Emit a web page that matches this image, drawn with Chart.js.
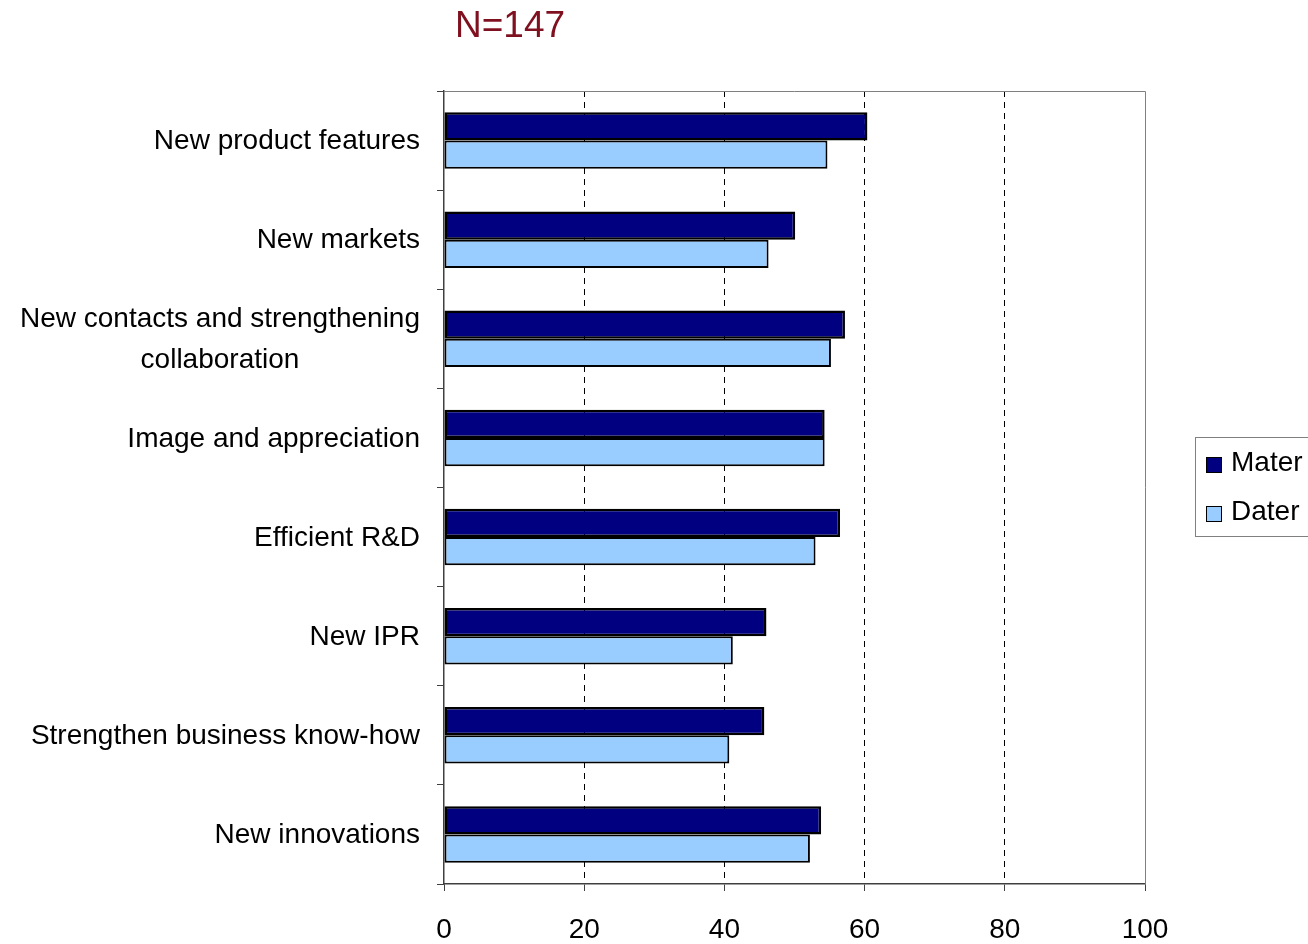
<!DOCTYPE html>
<html>
<head>
<meta charset="utf-8">
<script src="https://cdn.jsdelivr.net/npm/chart.js@4/dist/chart.umd.min.js"></script>
<style>
    html, body { margin: 0; padding: 0; background: #ffffff; }
</style>
</head>
<body>
<canvas id="grafico" width="1308" height="944"></canvas>
<script>
// dados
const categorias = [
    'New product features',
    'New markets',
    ['New contacts and strengthening', 'collaboration'],
    'Image and appreciation',
    'Efficient R&D',
    'New IPR',
    'Strengthen business know-how',
    'New innovations'
];
const valoresMater = [60.4, 50.1, 57.2, 54.3, 56.5, 46.0, 45.7, 53.8];
const valoresDater = [54.7, 46.3, 55.2, 54.3, 53.0, 41.2, 40.7, 52.2];
const ticksX = [0, 20, 40, 60, 80, 100];
const titulo = 'N=147';

const FONTE = '"Liberation Sans", Arial, sans-serif';

// rótulos do eixo y, moldura, título e legenda desenhados à mão
const extras = {
    id: 'extras',
    beforeDatasetsDraw(chart) {
        const { ctx, chartArea: a } = chart;
        ctx.save();
        ctx.strokeStyle = '#808080';
        ctx.lineWidth = 1;
        ctx.beginPath();
        ctx.moveTo(a.left, a.top + 0.5);
        ctx.lineTo(a.right + 0.5, a.top + 0.5);
        ctx.lineTo(a.right + 0.5, a.bottom);
        ctx.stroke();
        ctx.restore();
    },
    afterDraw(chart) {
        const { ctx } = chart;
        const escalaY = chart.scales.y;
        ctx.save();

        // rótulos das categorias
        ctx.fillStyle = '#000000';
        ctx.font = '28px ' + FONTE;
        ctx.textBaseline = 'middle';
        categorias.forEach((cat, i) => {
            const y = escalaY.getPixelForValue(i);
            const linhas = Array.isArray(cat) ? cat : [cat];
            const larguras = linhas.map(l => ctx.measureText(l).width);
            const maior = Math.max(...larguras);
            const centro = 420 - maior / 2;
            const passo = 41;
            const y0 = y - (linhas.length - 1) * passo / 2 + 1;
            linhas.forEach((l, k) => {
                ctx.textAlign = 'center';
                ctx.fillText(l, linhas.length > 1 ? centro : 420 - larguras[k] / 2, y0 + k * passo);
            });
        });

        // título
        ctx.fillStyle = '#7f1020';
        ctx.font = '37px ' + FONTE;
        ctx.textAlign = 'center';
        ctx.textBaseline = 'alphabetic';
        ctx.fillText(titulo, 510, 37);

        // legenda
        ctx.strokeStyle = '#808080';
        ctx.lineWidth = 1;
        ctx.strokeRect(1195.5, 437.5, 200, 99);
        ctx.font = '28px ' + FONTE;
        ctx.textAlign = 'left';
        ctx.textBaseline = 'middle';
        chart.data.datasets.forEach((ds, i) => {
            const yc = 464 + i * 49;
            ctx.fillStyle = ds.backgroundColor;
            ctx.fillRect(1206, yc - 7, 15, 15);
            ctx.strokeStyle = '#000000';
            ctx.lineWidth = 1;
            ctx.strokeRect(1206.5, yc - 6.5, 15, 15);
            ctx.fillStyle = '#000000';
            ctx.fillText(ds.label, 1231, yc - 1);
        });
        ctx.restore();
    }
};

const ctx = document.getElementById('grafico').getContext('2d');
const grafico = new Chart(ctx, {
    type: 'bar',
    data: {
        labels: categorias,
        datasets: [{
            label: 'Mater',
            data: valoresMater,
            backgroundColor: '#000080',
            borderColor: '#000000',
            borderWidth: 2.5,
            borderSkipped: false,
            categoryPercentage: 0.57,
            barPercentage: 1
        }, {
            label: 'Dater',
            data: valoresDater,
            backgroundColor: '#99ccff',
            borderColor: '#000000',
            borderWidth: 2,
            borderSkipped: false,
            categoryPercentage: 0.57,
            barPercentage: 1
        }]
    },
    options: {
        indexAxis: 'y',
        responsive: false,
        maintainAspectRatio: false,
        animation: false,
        devicePixelRatio: 1,
        layout: { padding: { top: 91, right: 163, bottom: 0, left: 0 } },
        plugins: {
            legend: { display: false },
            title: { display: false },
            tooltip: { enabled: false }
        },
        scales: {
            x: {
                min: 0,
                max: 100,
                afterBuildTicks: (escala) => {
                    escala.ticks = ticksX.map(v => ({ value: v }));
                },
                afterFit: (escala) => { escala.height = 60; },
                grid: {
                    color: (c) => (c.tick && (c.tick.value === 0 || c.tick.value === 100)) ? 'rgba(0,0,0,0)' : '#000000',
                    lineWidth: 1,
                    tickLength: 7,
                    tickColor: '#404040'
                },
                border: { display: true, color: '#404040', width: 1.5, dash: [6, 5] },
                ticks: {
                    color: '#000000',
                    font: { family: FONTE, size: 28 },
                    padding: 22,
                    maxRotation: 0
                }
            },
            y: {
                afterFit: (escala) => { escala.width = 444; },
                grid: {
                    offset: true,
                    drawOnChartArea: false,
                    tickLength: 7,
                    color: '#404040'
                },
                border: { display: true, color: '#404040', width: 1.5 },
                ticks: { display: false }
            }
        }
    },
    plugins: [extras]
});
</script>
</body>
</html>
